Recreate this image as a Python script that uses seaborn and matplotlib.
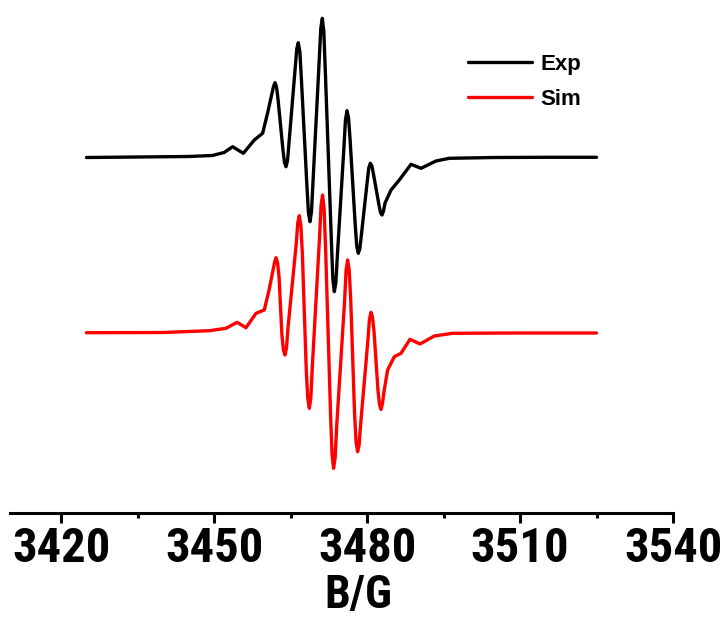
import numpy as np
import pandas as pd
import matplotlib
matplotlib.use("Agg")
import matplotlib.pyplot as plt
from matplotlib.ticker import MultipleLocator
import seaborn as sns

# Field axis (Gauss) and first-derivative EPR intensities (a.u.)
exp_field = [3425.0, 3435.0, 3445.0, 3449.7, 3452.0, 3453.65, 3455.75, 3457.9,
             3459.53, 3460.51, 3461.66, 3461.96, 3462.26, 3462.56,
             3463.52, 3463.82, 3464.12, 3464.42, 3464.72,
             3465.93, 3466.23, 3466.53, 3466.83, 3467.13,
             3468.22, 3468.52, 3468.82, 3469.12, 3469.42,
             3470.64, 3470.94, 3471.24, 3471.54, 3471.84,
             3472.99, 3473.29, 3473.59, 3473.89, 3474.19,
             3475.48, 3475.78, 3476.08, 3476.38, 3476.68,
             3477.69, 3477.99, 3478.29, 3478.59, 3478.89,
             3480.05, 3480.35, 3480.65, 3480.95, 3481.25,
             3482.34, 3482.64, 3482.94, 3483.24, 3483.54,
             3484.71, 3486.33, 3488.63, 3490.59, 3493.53, 3496.14,
             3505.0, 3515.0, 3525.0]
exp_signal = [-0.5, 0.0, 0.5, 1.5, 4.5, 10.3, 3.7, 17.0,
              23.7, 44.0, 70.3, 74.3, 70.1, 57.5,
              7.1, -5.5, -9.7, -3.5, 15.1,
              89.5, 108.1, 114.3, 105.3, 78.5,
              -28.9, -55.8, -64.7, -54.5, -24.0,
              98.0, 128.5, 138.7, 125.0, 84.0,
              -80.0, -121.0, -134.7, -125.7, -98.5,
              10.1, 37.3, 46.3, 39.2, 17.8,
              -67.8, -89.2, -96.3, -91.8, -78.3,
              -24.3, -10.8, -6.3, -8.9, -16.6,
              -47.7, -55.4, -58.0, -54.0, -46.0,
              -33.0, -23.0, -7.3, -11.3, -4.0, -1.3,
              -0.5, -0.3, -0.3]

sim_field = [3425.0, 3440.0, 3449.1, 3452.35, 3454.51, 3456.27, 3458.24, 3459.86,
             3460.8, 3461.86, 3462.16, 3462.46, 3462.76,
             3463.32, 3463.62, 3463.92, 3464.22, 3464.52,
             3466.13, 3466.43, 3466.73, 3467.03, 3467.33,
             3468.09, 3468.39, 3468.69, 3468.99, 3469.29,
             3470.69, 3470.99, 3471.29, 3471.59, 3471.89,
             3472.85, 3473.15, 3473.45, 3473.75, 3474.05,
             3475.6, 3475.9, 3476.2, 3476.5, 3476.8,
             3477.56, 3477.86, 3478.16, 3478.46, 3478.76,
             3480.18, 3480.48, 3480.78, 3481.08, 3481.38,
             3482.15, 3482.45, 3482.75, 3483.05, 3483.35,
             3484.04, 3485.35, 3486.67, 3488.43, 3490.39, 3493.2, 3496.78,
             3510.0, 3525.0]
sim_signal = [0.3, 0.5, 2.3, 4.7, 10.7, 5.3, 19.7, 23.0,
              43.0, 70.3, 75.3, 70.4, 55.8,
              -2.5, -17.1, -22.0, -15.0, 5.9,
              89.4, 110.3, 117.3, 107.7, 78.8,
              -36.8, -65.7, -75.3, -64.6, -32.6,
              95.3, 127.3, 138.0, 124.3, 83.3,
              -80.6, -121.6, -135.3, -124.9, -93.6,
              31.3, 62.6, 73.0, 63.4, 34.7,
              -80.4, -109.1, -118.7, -111.7, -90.8,
              -7.2, 13.7, 20.7, 15.8, 1.3,
              -57.1, -71.6, -76.5, -70.0, -58.0,
              -37.0, -23.7, -20.3, -6.3, -11.0, -3.0, -0.3,
              0.0, 0.0]

series_names = ["Exp", "Sim"]
series_offsets = [0.0, -176.0]
series_colors = ["#000000", "#ff0000"]

x_ticks = [3420, 3450, 3480, 3510, 3540]

frames = []
for name, field, signal, off in zip(series_names, [exp_field, sim_field],
                                    [exp_signal, sim_signal], series_offsets):
    frames.append(pd.DataFrame({"B": field,
                                "I": np.asarray(signal) + off,
                                "trace": name}))
df = pd.concat(frames, ignore_index=True)

sns.set_style("white")
plt.rcParams["font.family"] = ["Liberation Sans", "DejaVu Sans"]
plt.rcParams["text.color"] = "black"
plt.rcParams["axes.labelcolor"] = "black"
plt.rcParams["xtick.color"] = "black"
plt.rcParams["xtick.labelcolor"] = "black"
axis_font = ["Roboto Condensed", "Liberation Sans", "DejaVu Sans"]

fig = plt.figure(figsize=(7.26, 6.17), dpi=100)
ax = fig.add_axes([10 / 726, 104 / 617, 663 / 726, 513 / 617])

sns.lineplot(data=df, x="B", y="I", hue="trace", palette=series_colors,
             sort=False, estimator=None, linewidth=2.4, ax=ax, legend=False)
for line in ax.lines:
    line.set_solid_joinstyle("round")
    line.set_solid_capstyle("round")

ax.set_xlim(3410, 3540)
ax.set_ylim(-356, 157)
ax.set_yticks([])
ax.set_ylabel("")
sns.despine(ax=ax, left=True, top=True, right=True)
ax.spines["bottom"].set_linewidth(2.2)
ax.spines["bottom"].set_color("black")

ax.set_xticks(x_ticks)
ax.xaxis.set_minor_locator(MultipleLocator(15))
ax.tick_params(axis="x", which="major", direction="out", length=7.5, width=2.2,
               color="black", labelcolor="black", bottom=True, pad=2)
ax.tick_params(axis="x", which="minor", direction="out", length=3.5, width=2.2,
               color="black", bottom=True)
ax.set_xticklabels([str(t) for t in x_ticks], fontsize=35, fontweight="bold",
                   family=axis_font, color="black")
ax.set_xlabel("B/G", fontsize=33, fontweight="bold", family=axis_font,
              color="black")
ax.xaxis.set_label_coords(348 / 663, -60 / 513)
ax.xaxis.label.set_verticalalignment("top")

handles = [plt.Line2D([], [], color=c, linewidth=2.4) for c in series_colors]
fig.legend(handles, series_names, loc="upper left",
           bbox_to_anchor=(468 / 726, 1 - 54 / 617), frameon=False,
           prop={"weight": "bold", "size": 16}, handlelength=2.88,
           handletextpad=0.36, labelspacing=0.64, borderpad=0,
           borderaxespad=0, labelcolor="black")

fig.savefig("out.png", dpi=100)
